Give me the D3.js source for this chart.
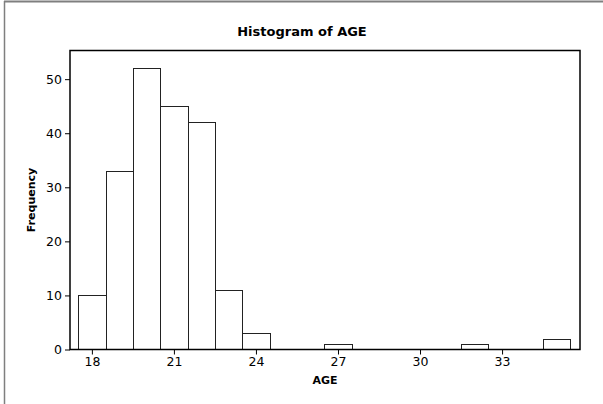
<!DOCTYPE html>
<html>
<head>
<meta charset="utf-8">
<script src="https://cdn.jsdelivr.net/npm/d3@7"></script>
<style>
  html, body { margin: 0; padding: 0; background: #fff; }
  svg { display: block; }
  text { font-family: "DejaVu Sans", Verdana, sans-serif; fill: #000; }
</style>
</head>
<body>
<script>
// Data (bin centers, width 1)
const binCenters = [18, 19, 20, 21, 22, 23, 24, 27, 32, 35];
const frequencies = [10, 33, 52, 45, 42, 11, 3, 1, 1, 2];
const xTicks = [18, 21, 24, 27, 30, 33];
const yTicks = [0, 10, 20, 30, 40, 50];
const titleText = "Histogram of AGE";
const xLabel = "AGE";
const yLabel = "Frequency";

const W = 603, H = 404;
const plot = { left: 70, right: 580, top: 50.5, bottom: 349.5 };

const svg = d3.select("body").append("svg").attr("width", W).attr("height", H);

// outer frame (left and top edges visible)
svg.append("line").attr("x1", 4.5).attr("x2", 4.5).attr("y1", 1).attr("y2", H)
  .attr("stroke", "#7f7f7f").attr("stroke-width", 1.5);
svg.append("line").attr("x1", 4).attr("x2", W).attr("y1", 1.5).attr("y2", 1.5)
  .attr("stroke", "#7f7f7f").attr("stroke-width", 2);

const x = d3.scaleLinear().domain([17.2, 35.85]).range([plot.left, plot.right]);
const y = d3.scaleLinear().domain([0, 55.3]).range([plot.bottom, plot.top]);

const data = binCenters.map((c, i) => ({ c, f: frequencies[i] }));

svg.append("g").selectAll("rect").data(data).join("rect")
  .attr("x", d => Math.round(x(d.c - 0.5)) + 0.5)
  .attr("width", d => Math.round(x(d.c + 0.5)) - Math.round(x(d.c - 0.5)))
  .attr("y", d => Math.round(y(d.f)) + 0.5)
  .attr("height", d => plot.bottom - (Math.round(y(d.f)) + 0.5))
  .attr("fill", "#fff").attr("stroke", "#222").attr("stroke-width", 1);

// plot frame
svg.append("rect")
  .attr("x", plot.left).attr("y", plot.top)
  .attr("width", plot.right - plot.left).attr("height", plot.bottom - plot.top)
  .attr("fill", "none").attr("stroke", "#000").attr("stroke-width", 1.5);

// axes
const xAxis = svg.append("g").attr("transform", `translate(0,${plot.bottom})`)
  .call(d3.axisBottom(x).tickValues(xTicks).tickSize(5).tickPadding(3).tickSizeOuter(0));
const yAxis = svg.append("g").attr("transform", `translate(${plot.left},0)`)
  .call(d3.axisLeft(y).tickValues(yTicks).tickSize(5).tickPadding(3).tickSizeOuter(0));
[xAxis, yAxis].forEach(g => {
  g.select(".domain").remove();
  g.selectAll("line").attr("stroke", "#000");
  g.selectAll("text").style("font-family", '"DejaVu Sans", Verdana, sans-serif')
    .style("font-size", "12.5px").attr("fill", "#111");
});

svg.append("text").attr("x", 302).attr("y", 36).attr("text-anchor", "middle")
  .style("font-size", "13px").style("font-weight", "bold").text(titleText);

svg.append("text").attr("x", (plot.left + plot.right) / 2).attr("y", 384)
  .attr("text-anchor", "middle").style("font-size", "11px").style("font-weight", "bold")
  .text(xLabel);

svg.append("text").attr("transform", `translate(35,${(plot.top + plot.bottom) / 2}) rotate(-90)`)
  .attr("text-anchor", "middle").style("font-size", "11px").style("font-weight", "bold")
  .text(yLabel);
</script>
</body>
</html>
